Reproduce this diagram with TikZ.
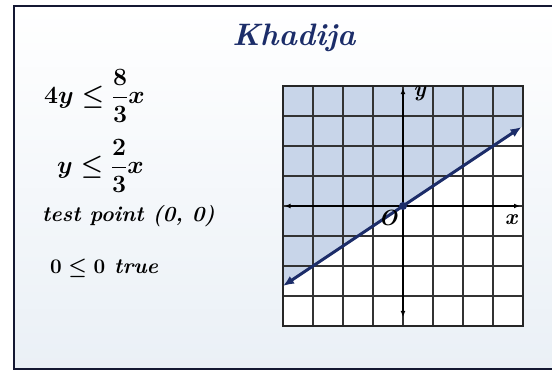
\documentclass[tikz,border=0pt]{standalone}
\usepackage{amsmath}
\usetikzlibrary{arrows.meta,calc}
\definecolor{navy}{RGB}{28,45,105}
\definecolor{ink}{RGB}{20,24,50}
\definecolor{shadeblue}{RGB}{200,213,233}
\definecolor{panel}{RGB}{234,240,246}
\begin{document}
\begin{tikzpicture}[x=1pt, y=-1pt,
  hand/.style={anchor=west, inner sep=0pt, text=black,
    font=\fontsize{21.5}{24}\selectfont\bfseries\itshape\boldmath},
  eqn/.style={hand, font=\fontsize{24}{26}\selectfont\bfseries\itshape\boldmath},
  axislbl/.style={inner sep=0pt, font=\fontsize{22}{24}\selectfont\bfseries\itshape},
  gridline/.style={gray!40!black, line width=1.2pt},
  axisline/.style={black, line width=1.8pt, {Latex[length=6pt,width=5pt]}-{Latex[length=6pt,width=5pt]}},
  boundary/.style={navy, line width=3pt, {Latex[length=11pt,width=9pt]}-{Latex[length=11pt,width=9pt]}}]
\useasboundingbox (0,0) rectangle (552,371);
% card
\shade[top color=white, bottom color=panel] (14,6) rectangle (560,369);
\draw[ink, line width=2.5pt] (14,6) rectangle (560,369);
% written work
\node[inner sep=0pt, text=navy, font=\fontsize{31}{33}\selectfont\bfseries\itshape] (title) at (294,38) {Khadija};
\node[eqn] (eqa) at (44,96) {$4y \le \dfrac{8}{3}x$};
\node[eqn] (eqb) at (57,166) {$y \le \dfrac{2}{3}x$};
\node[hand] (test) at (42,216) {test point (0, 0)};
\node[hand] (check) at (50,268) {$0 \le 0$ true};
% graph
\begin{scope}[shift={(403,206)}, x=30pt, y=30pt]
  \coordinate (sw) at (-4,-4);
  \coordinate (ne) at (4,4);
  \fill[white] (sw) rectangle (ne);
  \fill[shadeblue] (-4,-8/3) -- (4,8/3) -- (ne) -- (-4,4) -- cycle;
  \draw[gridline, step=1] (sw) grid (ne);
  \draw[gray!30!black, line width=1.8pt] (sw) rectangle (ne);
  \coordinate (xl) at (-3.95,0);
  \coordinate (xr) at (3.9,0);
  \coordinate (yb) at (0,-3.7);
  \coordinate (yt) at (0,3.93);
  \draw[axisline] (xl) -- (xr);
  \draw[axisline] (yb) -- (yt);
  \coordinate (la) at (-4,-8/3);
  \coordinate (lb) at (3.95,79/30);
  \draw[boundary] (la) -- (lb);
  \fill[navy] (0,0) circle (4pt);
  \node[axislbl] (ylbl) at (0.55,3.75) {y};
  \node[axislbl] (xlbl) at (3.6,-0.47) {x};
  \node[axislbl] (olbl) at (-0.5,-0.4) {O};
\end{scope}
\end{tikzpicture}
\end{document}
